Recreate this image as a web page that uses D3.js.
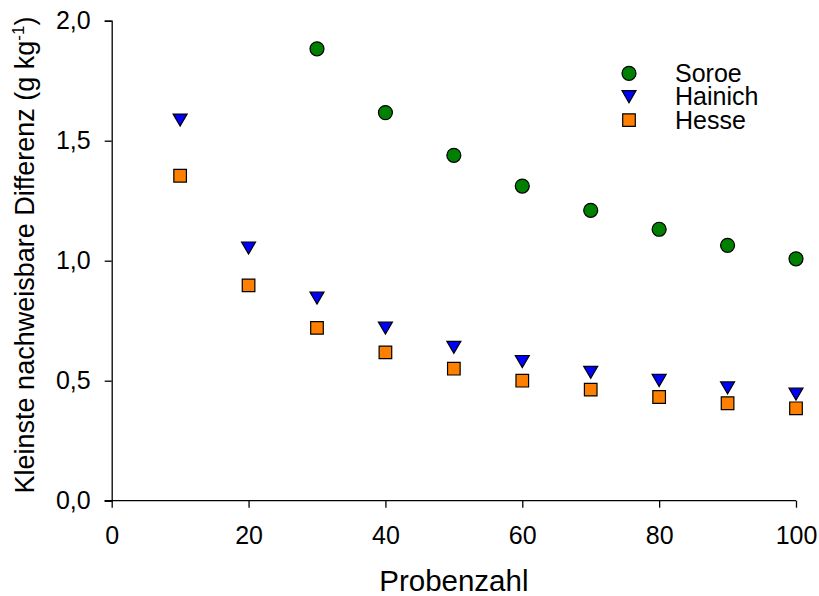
<!DOCTYPE html>
<html>
<head>
<meta charset="utf-8">
<script src="https://cdn.jsdelivr.net/npm/d3@7"></script>
<style>
  body { margin: 0; background: #fff; }
  svg { display: block; font-family: Arial, "Liberation Sans", sans-serif; }
</style>
</head>
<body>
<svg id="chart" width="819" height="596"></svg>
<script>
// Sample sizes
const probenzahl = [10, 20, 30, 40, 50, 60, 70, 80, 90, 100];

// Smallest detectable difference (g kg-1) per site
const soroe   = [null, null, 1.883, 1.617, 1.439, 1.311, 1.210, 1.131, 1.064, 1.008];
const hainich = [1.586, 1.053, 0.844, 0.719, 0.639, 0.580, 0.535, 0.501, 0.470, 0.444];
const hesse   = [1.354, 0.897, 0.720, 0.618, 0.550, 0.500, 0.463, 0.432, 0.406, 0.385];

const xTicks = [0, 20, 40, 60, 80, 100];
const yTicks = [0, 0.5, 1.0, 1.5, 2.0];

const series = [
  { name: "Soroe",   values: soroe,   shape: "circle",   fill: "#008000" },
  { name: "Hainich", values: hainich, shape: "triangle", fill: "#0000ff" },
  { name: "Hesse",   values: hesse,   shape: "square",   fill: "#ff8000" }
];

const svg = d3.select("#chart");
const x = d3.scaleLinear().domain([0, 100]).range([111.7, 796]);
const y = d3.scaleLinear().domain([0, 2]).range([500.7, 20.7]);

const fmt = d => d3.format(".1f")(d).replace(".", ",");

// Axes
const xAxis = svg.append("g")
  .attr("transform", `translate(0,${y(0)})`)
  .call(d3.axisBottom(x).tickValues(xTicks).tickSizeOuter(0).tickSize(7).tickPadding(19));
const yAxis = svg.append("g")
  .attr("transform", `translate(${x(0)},0)`)
  .call(d3.axisLeft(y).tickValues(yTicks).tickFormat(fmt).tickSizeOuter(0).tickSize(7).tickPadding(14));

[xAxis, yAxis].forEach(g => {
  g.select(".domain").attr("stroke", "#000").attr("stroke-width", 1.3);
  g.selectAll(".tick line").attr("stroke", "#000").attr("stroke-width", 1.3);
  g.selectAll(".tick text").attr("fill", "#000").style("font-size", "25px")
    .style("font-family", "Arial, 'Liberation Sans', sans-serif");
});
// x axis baseline reaches the left tick stub
xAxis.select(".domain").attr("d", `M${x(0) - 7},0H${x(100)}`);

// Marker symbols
const symbolFor = shape => {
  if (shape === "circle") return d3.symbol().type(d3.symbolCircle).size(Math.PI * 7 * 7)();
  if (shape === "square") return "M-6.3,-6.3H6.3V6.3H-6.3Z";
  return "M-7,-6H7L0,6Z";
};

series.forEach(s => {
  const pts = probenzahl.map((p, i) => ({ p, v: s.values[i] })).filter(d => d.v != null);
  svg.append("g").selectAll("path")
    .data(pts)
    .join("path")
    .attr("d", symbolFor(s.shape))
    .attr("transform", d => `translate(${x(d.p)},${y(d.v)})`)
    .attr("fill", s.fill)
    .attr("stroke", "#000")
    .attr("stroke-width", 1.2);
});

// Legend
const legend = svg.append("g").attr("transform", "translate(629,73.3)");
series.forEach((s, i) => {
  const row = legend.append("g").attr("transform", `translate(0,${i * 23.4})`);
  row.append("path").attr("d", symbolFor(s.shape))
    .attr("fill", s.fill).attr("stroke", "#000").attr("stroke-width", 1.2);
  row.append("text").attr("x", 46).attr("y", 8.5)
    .style("font-size", "25px").attr("fill", "#000").text(s.name);
});

// Axis titles
svg.append("text")
  .attr("x", (x(0) + x(100)) / 2).attr("y", 591)
  .attr("text-anchor", "middle").style("font-size", "29.5px").attr("fill", "#000")
  .text("Probenzahl");

const yTitle = svg.append("text")
  .attr("transform", "translate(34,255) rotate(-90)")
  .attr("text-anchor", "middle").style("font-size", "27px").attr("fill", "#000");
yTitle.append("tspan").text("Kleinste nachweisbare Differenz (g kg");
yTitle.append("tspan").attr("dy", -10).style("font-size", "17px").text("-1");
yTitle.append("tspan").attr("dy", 10).text(")");
</script>
</body>
</html>
